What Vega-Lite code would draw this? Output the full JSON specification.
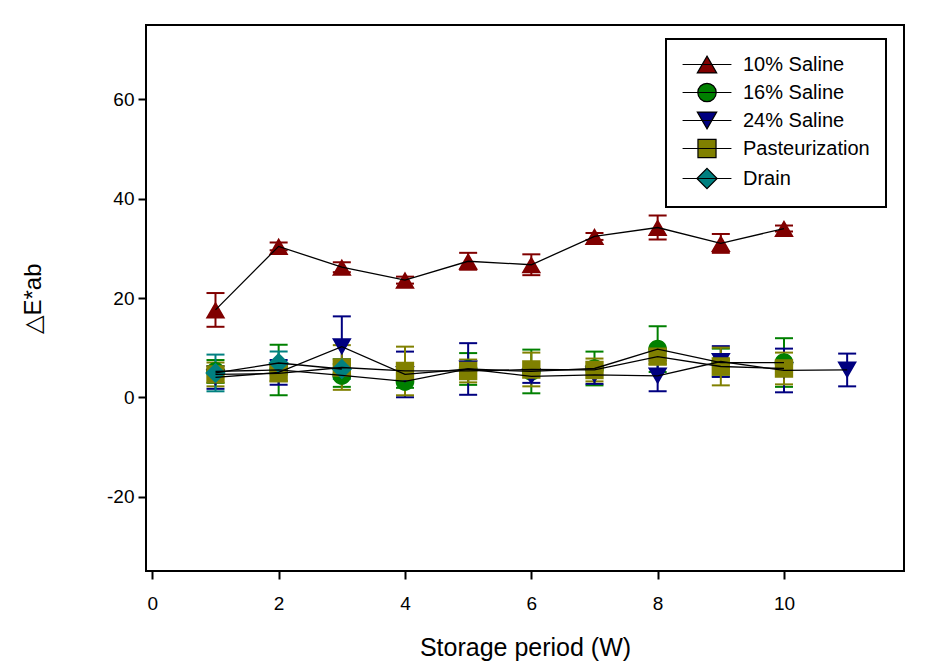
{
  "$schema": "https://vega.github.io/schema/vega-lite/v6.json",
  "width": 758,
  "height": 546,
  "autosize": {"type": "none"},
  "padding": {"left": 146, "top": 25, "right": 45, "bottom": 100},
  "config": {
    "view": {"stroke": "black", "strokeWidth": 2},
    "font": "Liberation Sans",
    "axis": {"grid": false, "domain": false, "tickColor": "black", "tickWidth": 2, "tickSize": 8, "labelFontSize": 19, "labelColor": "black", "labelFont": "Liberation Sans", "titleFont": "Liberation Sans", "titleFontWeight": "normal", "titleColor": "black"}
  },
  "data": {"values": [
    {"series": "10% Saline", "week": 1, "mean": 17.6, "err": 3.4},
    {"series": "10% Saline", "week": 2, "mean": 30.4, "err": 0.8},
    {"series": "10% Saline", "week": 3, "mean": 26.2, "err": 1.0},
    {"series": "10% Saline", "week": 4, "mean": 23.6, "err": 0.7},
    {"series": "10% Saline", "week": 5, "mean": 27.4, "err": 1.7},
    {"series": "10% Saline", "week": 6, "mean": 26.7, "err": 2.1},
    {"series": "10% Saline", "week": 7, "mean": 32.4, "err": 0.7},
    {"series": "10% Saline", "week": 8, "mean": 34.2, "err": 2.4},
    {"series": "10% Saline", "week": 9, "mean": 31.0, "err": 1.9},
    {"series": "10% Saline", "week": 10, "mean": 34.0, "err": 0.6},
    {"series": "16% Saline", "week": 1, "mean": 5.2, "err": 2.3},
    {"series": "16% Saline", "week": 2, "mean": 5.5, "err": 5.1},
    {"series": "16% Saline", "week": 3, "mean": 4.4, "err": 2.3},
    {"series": "16% Saline", "week": 4, "mean": 3.2, "err": 1.3},
    {"series": "16% Saline", "week": 5, "mean": 5.7, "err": 3.2},
    {"series": "16% Saline", "week": 6, "mean": 5.2, "err": 4.4},
    {"series": "16% Saline", "week": 7, "mean": 5.8, "err": 3.4},
    {"series": "16% Saline", "week": 8, "mean": 9.7, "err": 4.6},
    {"series": "16% Saline", "week": 9, "mean": 7.0, "err": 2.8},
    {"series": "16% Saline", "week": 10, "mean": 7.0, "err": 4.9},
    {"series": "24% Saline", "week": 1, "mean": 4.0, "err": 2.3},
    {"series": "24% Saline", "week": 2, "mean": 5.0, "err": 2.5},
    {"series": "24% Saline", "week": 3, "mean": 10.2, "err": 6.1},
    {"series": "24% Saline", "week": 4, "mean": 4.6, "err": 4.6},
    {"series": "24% Saline", "week": 5, "mean": 5.7, "err": 5.2},
    {"series": "24% Saline", "week": 6, "mean": 4.2, "err": 1.3},
    {"series": "24% Saline", "week": 7, "mean": 4.5, "err": 1.8},
    {"series": "24% Saline", "week": 8, "mean": 4.3, "err": 3.1},
    {"series": "24% Saline", "week": 9, "mean": 7.2, "err": 3.1},
    {"series": "24% Saline", "week": 10, "mean": 5.4, "err": 4.4},
    {"series": "24% Saline", "week": 11, "mean": 5.5, "err": 3.3},
    {"series": "Pasteurization", "week": 1, "mean": 4.6, "err": 2.4},
    {"series": "Pasteurization", "week": 2, "mean": 4.8, "err": 1.5},
    {"series": "Pasteurization", "week": 3, "mean": 6.0, "err": 4.5},
    {"series": "Pasteurization", "week": 4, "mean": 5.3, "err": 4.9},
    {"series": "Pasteurization", "week": 5, "mean": 5.3, "err": 2.3},
    {"series": "Pasteurization", "week": 6, "mean": 5.6, "err": 3.4},
    {"series": "Pasteurization", "week": 7, "mean": 5.5, "err": 2.3},
    {"series": "Pasteurization", "week": 8, "mean": 8.2, "err": 1.5},
    {"series": "Pasteurization", "week": 9, "mean": 6.2, "err": 3.8},
    {"series": "Pasteurization", "week": 10, "mean": 5.8, "err": 3.2},
    {"series": "Drain", "week": 1, "mean": 4.9, "err": 3.7},
    {"series": "Drain", "week": 2, "mean": 6.9, "err": 2.3},
    {"series": "Drain", "week": 3, "mean": 5.7, "err": 2.0}
  ]},
  "encoding": {
    "x": {
      "field": "week", "type": "quantitative",
      "scale": {"domain": [-0.1, 11.9], "nice": false, "zero": false},
      "axis": {"values": [0, 2, 4, 6, 8, 10], "title": "Storage period (W)", "labelPadding": 15, "titleFontSize": 25, "titleX": 379, "titleY": 76, "titleBaseline": "middle", "titleAlign": "center"}
    },
    "y": {
      "field": "mean", "type": "quantitative",
      "scale": {"domain": [-35, 75], "nice": false, "zero": false},
      "axis": {"values": [-20, 0, 20, 40, 60], "labelExpr": "'' + datum.value", "title": "△E*ab", "labelPadding": 4, "titleFontSize": 24, "titleX": -113, "titleY": 273, "titleAngle": -90, "titleAlign": "center", "titleBaseline": "middle"}
    }
  },
  "layer": [
    {
      "transform": [{"filter": "datum.series === '10% Saline'"}],
      "mark": {"type": "errorbar", "color": "#800000", "rule": {"strokeWidth": 2, "opacity": 1}, "ticks": {"size": 18, "thickness": 2, "opacity": 1}},
      "encoding": {"yError": {"field": "err"}}
    },
    {
      "transform": [{"filter": "datum.series === '16% Saline'"}],
      "mark": {"type": "errorbar", "color": "#008000", "rule": {"strokeWidth": 2, "opacity": 1}, "ticks": {"size": 18, "thickness": 2, "opacity": 1}},
      "encoding": {"yError": {"field": "err"}}
    },
    {
      "transform": [{"filter": "datum.series === '24% Saline'"}],
      "mark": {"type": "errorbar", "color": "#000080", "rule": {"strokeWidth": 2, "opacity": 1}, "ticks": {"size": 18, "thickness": 2, "opacity": 1}},
      "encoding": {"yError": {"field": "err"}}
    },
    {
      "transform": [{"filter": "datum.series === 'Pasteurization'"}],
      "mark": {"type": "errorbar", "color": "#808000", "rule": {"strokeWidth": 2, "opacity": 1}, "ticks": {"size": 18, "thickness": 2, "opacity": 1}},
      "encoding": {"yError": {"field": "err"}}
    },
    {
      "transform": [{"filter": "datum.series === 'Drain'"}],
      "mark": {"type": "errorbar", "color": "#008080", "rule": {"strokeWidth": 2, "opacity": 1}, "ticks": {"size": 18, "thickness": 2, "opacity": 1}},
      "encoding": {"yError": {"field": "err"}}
    },
    {
      "mark": {"type": "point", "filled": true, "opacity": 1, "size": 350, "strokeWidth": 0},
      "encoding": {
        "fill": {"field": "series", "type": "nominal",
          "scale": {"domain": ["10% Saline", "16% Saline", "24% Saline", "Pasteurization", "Drain"], "range": ["#800000", "#008000", "#000080", "#808000", "#008080"]},
          "legend": {"title": null, "orient": "none", "legendX": 520, "legendY": 14, "strokeColor": "black", "fillColor": "white", "padding": 15.5, "labelFontSize": 20, "labelFont": "Liberation Sans", "labelColor": "black", "symbolSize": 340, "rowPadding": 5, "symbolOffset": 15.5, "labelOffset": 26, "symbolOpacity": 1,
            "encode": {"legend": {"update": {"strokeWidth": {"value": 2}}}, "symbols": {"update": {"strokeWidth": {"value": 1.2}, "opacity": {"value": 1}}}}}
        },
        "stroke": {"field": "series", "type": "nominal",
          "scale": {"domain": ["10% Saline", "16% Saline", "24% Saline", "Pasteurization", "Drain"], "range": ["black", "black", "black", "black", "black"]},
          "legend": {"title": null, "orient": "none", "legendX": 520, "legendY": 14, "strokeColor": "black", "fillColor": "white", "padding": 15.5, "labelFontSize": 20, "labelFont": "Liberation Sans", "labelColor": "black", "symbolSize": 340, "rowPadding": 5, "symbolOffset": 15.5, "labelOffset": 26, "symbolOpacity": 1,
            "encode": {"legend": {"update": {"strokeWidth": {"value": 2}}}, "symbols": {"update": {"strokeWidth": {"value": 1.2}, "opacity": {"value": 1}}}}}
        },
        "shape": {"field": "series", "type": "nominal",
          "scale": {"domain": ["10% Saline", "16% Saline", "24% Saline", "Pasteurization", "Drain"],
            "range": [
              "M-2.65,0H2.65M0,-0.91L1.05,0.91L-1.05,0.91Z",
              "M-2.65,0H2.65M1,0A1,1,0,1,1,-1,0A1,1,0,1,1,1,0Z",
              "M-2.65,0H2.65M0,0.91L1.05,-0.91L-1.05,-0.91Z",
              "M-2.65,0H2.65M-0.98,-0.98H0.98V0.98H-0.98Z",
              "M-2.65,0H2.65M0,-1.1L1.1,0L0,1.1L-1.1,0Z"
            ]},
          "legend": {"title": null, "orient": "none", "legendX": 520, "legendY": 14, "strokeColor": "black", "fillColor": "white", "padding": 15.5, "labelFontSize": 20, "labelFont": "Liberation Sans", "labelColor": "black", "symbolSize": 340, "rowPadding": 5, "symbolOffset": 15.5, "labelOffset": 26, "symbolOpacity": 1,
            "encode": {"legend": {"update": {"strokeWidth": {"value": 2}}}, "symbols": {"update": {"strokeWidth": {"value": 1.2}, "opacity": {"value": 1}}}}}
        }
      }
    },
    {
      "mark": {"type": "line", "color": "black", "strokeWidth": 1.3},
      "encoding": {"detail": {"field": "series", "type": "nominal"}}
    }
  ]
}
